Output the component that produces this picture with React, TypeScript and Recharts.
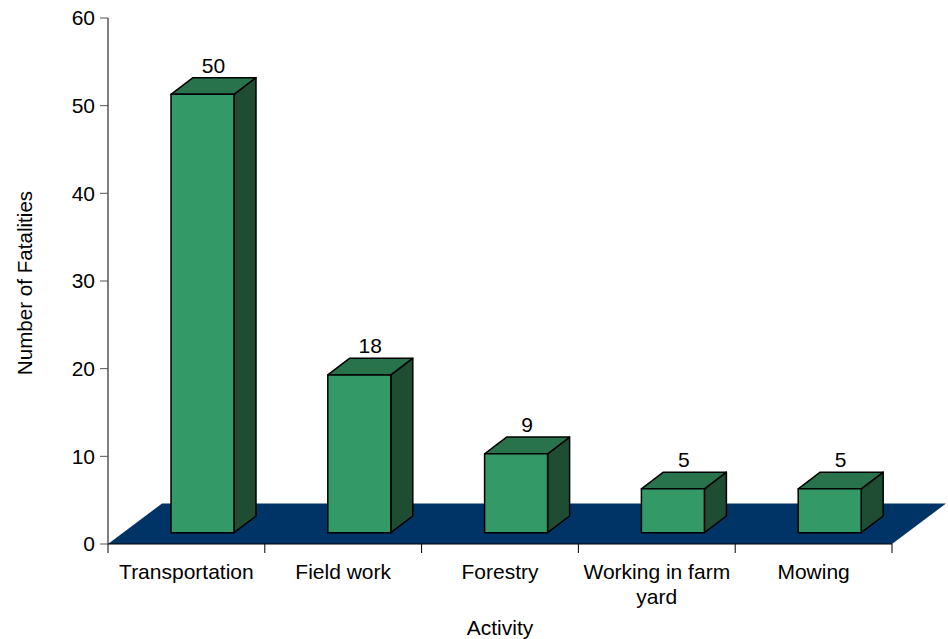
import { BarChart, Bar, XAxis, YAxis, ReferenceArea, LabelList } from "recharts";

const categories = ["Transportation", "Field work", "Forestry", "Working in farm yard", "Mowing"];
const fatalities = [50, 18, 9, 5, 5];
const yTicks = [0, 10, 20, 30, 40, 50, 60];
// tick text as it is broken into lines in the original
const tickLines = [["Transportation"], ["Field work"], ["Forestry"], ["Working in farm", "yard"], ["Mowing"]];

const data = categories.map((name, i) => ({ name, value: fatalities[i] }));

const W = 948;
const H = 639;
const LEFT = 108;
const RIGHT = 56;
const TOP = 18;
const BOTTOM = 95;
const PLOT_W = W - LEFT - RIGHT;
const BAND = PLOT_W / categories.length;

// 3D look
const FLOOR_DX = 54;
const FLOOR_DY = 40.5;
const OFF_X = 16;
const OFF_Y = 11.3;
const DEPTH_X = 22;
const DEPTH_Y = 16.7;

const FRONT = "#339966";
const TOP_C = "#28734c";
const SIDE = "#1e4d34";
const FLOOR = "#003366";
const FONT = "'Liberation Sans', Arial, sans-serif";

const Bar3D = (props: any) => {
  const { x, y, width, height } = props;
  const fx = x + OFF_X;
  const fy = y - OFF_Y;
  const fb = y + height - OFF_Y;
  const rx = fx + width;
  return (
    <g stroke="#000" strokeWidth={1.5} strokeLinejoin="round">
      <polygon
        points={`${rx},${fy} ${rx + DEPTH_X},${fy - DEPTH_Y} ${rx + DEPTH_X},${fb - DEPTH_Y} ${rx},${fb}`}
        fill={SIDE}
      />
      <polygon
        points={`${fx},${fy} ${fx + DEPTH_X},${fy - DEPTH_Y} ${rx + DEPTH_X},${fy - DEPTH_Y} ${rx},${fy}`}
        fill={TOP_C}
      />
      <rect x={fx} y={fy} width={width} height={fb - fy} fill={FRONT} />
    </g>
  );
};

const Floor = (props: any) => {
  const { x, y, width, height } = props;
  const b = y + height;
  return (
    <polygon
      points={`${x},${b} ${x + width},${b} ${x + width + FLOOR_DX},${b - FLOOR_DY} ${x + FLOOR_DX},${b - FLOOR_DY}`}
      fill={FLOOR}
      stroke="none"
    />
  );
};

const XTick = (props: any) => {
  const { x, y, index } = props;
  const left = x - BAND / 2;
  const right = x + BAND / 2;
  const lines = tickLines[index] || [];
  return (
    <g>
      <line x1={left} y1={y} x2={left} y2={y + 9} stroke="#000" />
      {index === categories.length - 1 && (
        <line x1={right} y1={y} x2={right} y2={y + 9} stroke="#000" />
      )}
      <text x={x} y={y + 34.5} textAnchor="middle" fontSize={21} fontFamily={FONT} fill="#000">
        {lines.map((l, i) => (
          <tspan key={i} x={x} dy={i === 0 ? 0 : 25.5}>
            {l}
          </tspan>
        ))}
      </text>
    </g>
  );
};

const ValueLabel = (props: any) => {
  const { x, y, width, value } = props;
  return (
    <text
      x={x + width / 2 + OFF_X + DEPTH_X / 2}
      y={y - OFF_Y - DEPTH_Y - 5}
      textAnchor="middle"
      fontSize={21}
      fontFamily={FONT}
      fill="#000"
    >
      {value}
    </text>
  );
};

export default function App() {
  return (
    <div style={{ position: "absolute", left: 0, top: 0, width: W, height: H, background: "#fff", fontFamily: FONT }}>
      <BarChart width={W} height={H} data={data} margin={{ top: TOP, right: RIGHT, bottom: 0, left: 0 }} barSize={63}>
        <ReferenceArea y1={0} y2={60} shape={<Floor />} ifOverflow="visible" />
        <XAxis
          dataKey="name"
          height={BOTTOM}
          stroke="#000"
          tickLine={false}
          tickSize={0}
          tickMargin={0}
          interval={0}
          tick={<XTick />}
          label={{
            content: () => (
              <text x={LEFT + PLOT_W / 2} y={635} textAnchor="middle" fontSize={21} fontFamily={FONT} fill="#000">
                Activity
              </text>
            ),
          }}
        />
        <YAxis
          width={LEFT}
          domain={[0, 60]}
          ticks={yTicks}
          interval={0}
          stroke="#000"
          tickSize={8}
          tickMargin={5}
          tick={{ fontSize: 21, fill: "#000", fontFamily: FONT }}
          tickLine={{ stroke: "#555" }}
          label={{
            content: () => (
              <text
                x={32}
                y={283}
                textAnchor="middle"
                fontSize={20.6}
                fontFamily={FONT}
                fill="#000"
                transform="rotate(-90, 32, 283)"
              >
                Number of Fatalities
              </text>
            ),
          }}
        />
        <Bar dataKey="value" shape={<Bar3D />} isAnimationActive={false}>
          <LabelList dataKey="value" content={<ValueLabel />} />
        </Bar>
      </BarChart>
    </div>
  );
}
